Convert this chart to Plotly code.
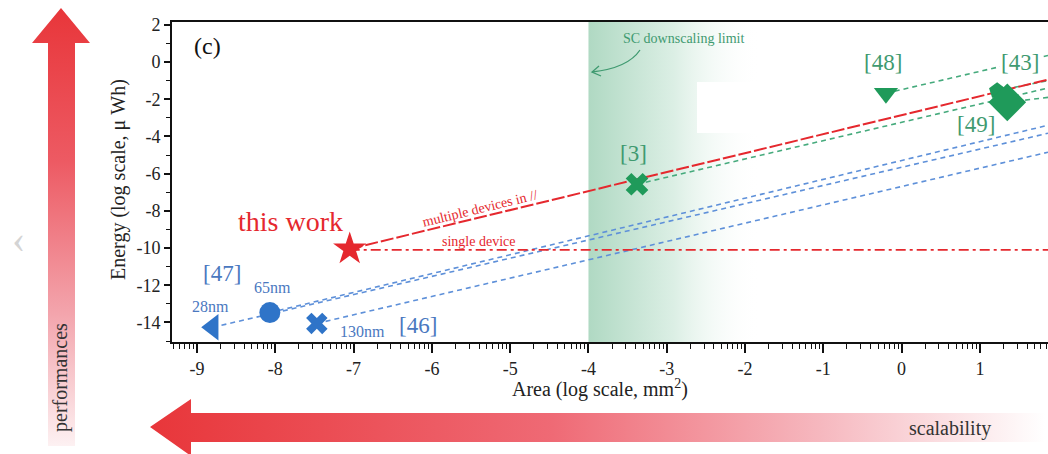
import numpy as np
import plotly.graph_objects as go

W, H = 1048, 454

# ---------------- data ----------------
x_range = [-9.32, 1.87]          # Area, log10(mm^2)
y_range = [-15.05, 2.15]         # Energy, log10(uWh)
x_tick_vals = [-9, -8, -7, -6, -5, -4, -3, -2, -1, 0, 1]
x_tick_text = ["-9", "-8", "-7", "-6", "-5", "-4", "-3", "-2", "-1", "0", "1"]
y_tick_vals = [-14, -12, -10, -8, -6, -4, -2, 0, 2]
y_tick_text = ["-14", "-12", "-10", "-8", "-6", "-4", "-2", "0", "2"]

sc_limit = -4.0                  # SC downscaling limit (area)
sc_fade_end = -1.8

this_work_x = [-7.05]
this_work_y = [-10.05]
multi_x = [-7.05, 1.87]
multi_y = [-10.05, -0.95]
single_x = [-7.05, 1.87]
single_y = [-10.1, -10.1]

green_refs = ["[3]", "[48]", "[43]", "[49]"]
green_x = [-3.38, -0.20, 1.22, 1.35]
green_y = [-6.57, -1.68, -1.55, -2.17]
green_end_y = [-1.40, 0.35, -1.00, -1.90]

blue_nodes = ["28nm", "65nm", "130nm"]
blue_x = [-8.80, -8.07, -7.47]
blue_y = [-14.26, -13.47, -14.05]
blue_end_y = [-3.83, -3.40, -4.85]

# ---------------- styles ----------------
RED = "#e5282e"
GREEN = "#1f9a5a"
GREEN_TXT = "#3f9a70"
GREEN_LINE = "#45aa7c"
BLUE = "#2f74c8"
BLUE_TXT = "#4a78bf"
BLUE_LINE = "#5e90d9"
SERIF = "Liberation Serif, Times New Roman, serif"
green_symbols = ["x", "triangle-down", "pentagon", "diamond"]
green_sizes = [20, 21, 17, 29]
blue_symbols = ["triangle-left", "circle", "x"]
blue_sizes = [23, 21, 19]

# plot area in pixels
PL, PR, PT, PB = 172, 1048, 22, 342

fig = go.Figure()

# SC downscaling band (gradient)
fig.add_trace(go.Scatter(
    x=[sc_limit, sc_fade_end, sc_fade_end, sc_limit, sc_limit],
    y=[y_range[0], y_range[0], y_range[1], y_range[1], y_range[0]],
    fill="toself", mode="none", hoverinfo="skip", showlegend=False,
    fillgradient=dict(type="horizontal", start=sc_limit, stop=sc_fade_end,
                      colorscale=[[0, "rgb(176,217,195)"], [0.5, "rgb(220,239,229)"],
                                  [1, "rgba(255,255,255,0)"]]),
))

# lines
for i in range(len(blue_x)):
    fig.add_trace(go.Scatter(x=[blue_x[i], x_range[1]], y=[blue_y[i], blue_end_y[i]],
                             mode="lines", line=dict(color=BLUE_LINE, width=1.6, dash="5px,4px"),
                             hoverinfo="skip", showlegend=False))
for i in range(len(green_x)):
    fig.add_trace(go.Scatter(x=[green_x[i], x_range[1]], y=[green_y[i], green_end_y[i]],
                             mode="lines", line=dict(color=GREEN_LINE, width=1.6, dash="5px,4px"),
                             hoverinfo="skip", showlegend=False))
fig.add_trace(go.Scatter(x=multi_x, y=multi_y, mode="lines",
                         line=dict(color=RED, width=2, dash="13px,3px"),
                         hoverinfo="skip", showlegend=False))
fig.add_trace(go.Scatter(x=single_x, y=single_y, mode="lines",
                         line=dict(color=RED, width=1.8, dash="10px,4px,3px,4px"),
                         hoverinfo="skip", showlegend=False))

# markers
fig.add_trace(go.Scatter(x=blue_x, y=blue_y, mode="markers",
                         marker=dict(symbol=blue_symbols, size=blue_sizes, color=BLUE,
                                     opacity=1, line=dict(width=0)),
                         text=blue_nodes, showlegend=False))
fig.add_trace(go.Scatter(x=green_x, y=green_y, mode="markers",
                         marker=dict(symbol=green_symbols, size=green_sizes, color=GREEN,
                                     opacity=1, line=dict(width=0)),
                         text=green_refs, showlegend=False))
fig.add_trace(go.Scatter(x=this_work_x, y=this_work_y, mode="markers",
                         marker=dict(symbol="star", size=25, color=RED, opacity=1,
                                     line=dict(width=0)),
                         showlegend=False))

# decorative gradient arrows on a pixel-coordinate overlay
fig.add_trace(go.Scatter(
    x=[48, 48, 32, 61, 90, 75, 75, 48], y=[446, 43, 43, 8, 43, 43, 446, 446],
    xaxis="x2", yaxis="y2", fill="toself", mode="none", hoverinfo="skip", showlegend=False,
    fillgradient=dict(type="vertical", start=8, stop=446,
                      colorscale=[[0, "#e8363a"], [0.35, "#ed5a63"], [0.7, "#f3a5ad"],
                                  [1, "#fdf1f2"]]),
))
fig.add_trace(go.Scatter(
    x=[150, 191, 191, 1045, 1045, 191, 191, 150], y=[427, 399, 413, 413, 442, 442, 456, 427],
    xaxis="x2", yaxis="y2", fill="toself", mode="none", hoverinfo="skip", showlegend=False,
    fillgradient=dict(type="horizontal", start=150, stop=1045,
                      colorscale=[[0, "#e8363a"], [0.45, "#ef6a75"], [0.75, "#f6b8bf"],
                                  [1, "#ffffff"]]),
))

minor_x = [d + np.log10(k) for d in range(-10, 2) for k in range(2, 10)]
minor_y = list(range(-15, 3, 2))

fig.update_layout(
    width=W, height=H,
    margin=dict(l=0, r=0, t=0, b=0),
    paper_bgcolor="white", plot_bgcolor="rgba(0,0,0,0)",
    font=dict(family=SERIF, color="#222"),
    xaxis=dict(domain=[PL / W, PR / W], range=x_range, tickmode="array",
               tickvals=x_tick_vals, ticktext=x_tick_text, ticks="outside",
               ticklen=9, tickwidth=1.5, tickcolor="#111", showline=True, linewidth=2,
               linecolor="#111", mirror=True, showgrid=False, zeroline=False,
               tickfont=dict(size=18, family=SERIF, color="#222"), automargin=False,
               minor=dict(tickvals=minor_x, ticks="outside", ticklen=5, tickwidth=1,
                          tickcolor="#111", showgrid=False)),
    yaxis=dict(domain=[1 - PB / H, 1 - PT / H], range=y_range, tickmode="array",
               tickvals=y_tick_vals, ticktext=y_tick_text, ticks="outside",
               ticklen=6, tickwidth=1.5, tickcolor="#111", showline=True, linewidth=2,
               linecolor="#111", mirror=False, showgrid=False, zeroline=False,
               tickfont=dict(size=18, family=SERIF, color="#222"), automargin=False,
               minor=dict(tickvals=minor_y, ticks="outside", ticklen=4, tickwidth=1,
                          tickcolor="#111", showgrid=False)),
    xaxis2=dict(domain=[0, 1], range=[0, W], visible=False, fixedrange=True, anchor="y2"),
    yaxis2=dict(domain=[0, 1], range=[H, 0], visible=False, fixedrange=True, anchor="x2"),
)

def ann(x, y, text, size, color, angle=0, bg=None, xanchor="center"):
    d = dict(x=x, y=y, xref="x2", yref="y2", text=text, showarrow=False,
             font=dict(size=size, color=color, family=SERIF), textangle=angle,
             xanchor=xanchor, yanchor="middle")
    if bg:
        d["bgcolor"] = bg
    fig.add_annotation(**d)

# white patch inside the band
fig.add_shape(type="rect", xref="x2", yref="y2", x0=697, x1=763, y0=82, y1=133,
              fillcolor="white", line=dict(width=0), layer="above")

ann(600, 388, "Area (log scale, mm<sup>2</sup>)", 20, "#222")
ann(118, 180, "Energy (log scale, \u03bc Wh)", 20, "#222", angle=-90)
ann(207, 46, "(c)", 24, "#111")
ann(290, 221, "this work", 28, RED)
ann(480, 208, "multiple devices in //", 14, RED, angle=-13.7)
ann(478, 241, "single device", 14, RED)
ann(683, 38, "SC downscaling limit", 14, GREEN_TXT)
ann(633, 153, green_refs[0], 23, GREEN_TXT)
ann(883, 62, green_refs[1], 23, GREEN_TXT)
ann(1020, 62, green_refs[2], 23, GREEN_TXT, bg="white")
ann(976, 124, green_refs[3], 23, GREEN_TXT)
ann(222, 273, "[47]", 23, BLUE_TXT)
ann(272, 287, blue_nodes[1], 16, BLUE_TXT)
ann(210, 306, blue_nodes[0], 16, BLUE_TXT)
ann(362, 331, blue_nodes[2], 16, BLUE_TXT)
ann(418, 325, "[46]", 23, BLUE_TXT)
ann(950, 428, "scalability", 20, "#333")
ann(60, 378, "performances", 20, "#333", angle=-90)
ann(18, 238, "\u2039", 40, "#d4d4d4")

# curved arrow for SC limit
fig.add_shape(type="path", xref="x2", yref="y2",
              path="M 640 50 Q 628 68 592 72", line=dict(color=GREEN_TXT, width=1.3))
fig.add_shape(type="path", xref="x2", yref="y2",
              path="M 599 66 L 592 72 L 601 76", line=dict(color=GREEN_TXT, width=1.3))

fig.write_html("out.html", config={"displayModeBar": False},
               post_script="document.body.style.margin='0px';document.body.style.overflow='hidden';")
